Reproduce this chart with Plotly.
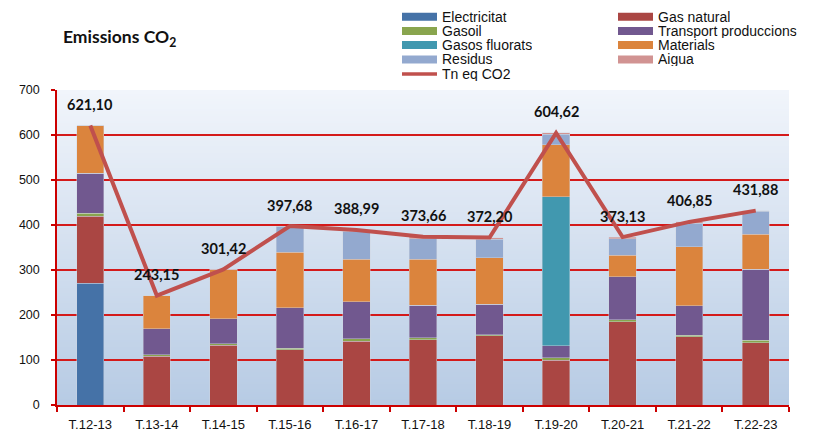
import base64
import struct
import zlib

import plotly.graph_objects as go

categories = ["T.12-13", "T.13-14", "T.14-15", "T.15-16", "T.16-17", "T.17-18",
              "T.18-19", "T.19-20", "T.20-21", "T.21-22", "T.22-23"]

electricitat = [271, 0, 0, 0, 0, 0, 0, 0, 0, 0, 0]
gas_natural = [148, 108, 133, 123, 142, 145, 154, 99, 185, 152, 138]
gasoil = [7, 4, 3, 3, 5, 5, 2, 6, 4, 3.5, 5.5]
transport = [89, 57, 56, 90, 83, 72, 68, 27, 96, 65, 158]
gasos_fluorats = [0, 0, 0, 0, 0, 0, 0, 331, 0, 0, 0]
materials = [106, 74, 109, 123, 94, 102, 103, 115, 48, 131, 77.5]
residus = [0, 0, 0, 58, 62, 46, 41, 24, 37, 52, 51.5]
aigua = [0.1, 0.15, 0.42, 0.68, 3.0, 3.66, 4.2, 2.62, 3.13, 3.35, 1.38]

totals = [621.10, 243.15, 301.42, 397.68, 388.99, 373.66, 372.20, 604.62, 373.13, 406.85, 431.88]
total_labels = ["621,10", "243,15", "301,42", "397,68", "388,99", "373,66",
                "372,20", "604,62", "373,13", "406,85", "431,88"]

series = [
    ("Electricitat", electricitat, "#4572A7"),
    ("Gas natural", gas_natural, "#AA4643"),
    ("Gasoil", gasoil, "#89A54E"),
    ("Transport produccions", transport, "#71588F"),
    ("Gasos fluorats", gasos_fluorats, "#4198AF"),
    ("Materials", materials, "#DB843D"),
    ("Residus", residus, "#93A9CF"),
    ("Aigua", aigua, "#D19392"),
]
line_name = "Tn eq CO2"
line_color = "#C0504D"

W, H = 818, 433
ML, MR, MT, MB = 57, 29, 90, 28
PW, PH = W - ML - MR, H - MT - MB


def px2paper(px, py):
    return (px - ML) / PW, (H - MB - py) / PH


def gradient_png(top, bot, n=128):
    rows = []
    for i in range(n):
        f = i / (n - 1)
        c = bytes(int(round(top[k] + (bot[k] - top[k]) * f)) for k in range(3))
        rows.append(b"\x00" + c + c)
    raw = b"".join(rows)

    def chunk(t, d):
        return struct.pack(">I", len(d)) + t + d + struct.pack(">I", zlib.crc32(t + d) & 0xffffffff)

    ihdr = struct.pack(">IIBBBBB", 2, n, 8, 2, 0, 0, 0)
    data = b"\x89PNG\r\n\x1a\n" + chunk(b"IHDR", ihdr) + chunk(b"IDAT", zlib.compress(raw)) + chunk(b"IEND", b"")
    return "data:image/png;base64," + base64.b64encode(data).decode()


fig = go.Figure()
for name, vals, col in series:
    fig.add_trace(go.Bar(x=categories, y=vals, name=name, marker_color=col,
                         marker_line=dict(color="rgba(210,215,225,0.7)", width=0.6),
                         showlegend=False))

fig.add_trace(go.Scatter(x=categories, y=totals, mode="lines", name=line_name,
                         line=dict(color=line_color, width=4), showlegend=False))

annotations = []
for c, t, lab in zip(categories, totals, total_labels):
    annotations.append(dict(x=c, y=t, text="<b>" + lab + "</b>", showarrow=False,
                            yshift=21, font=dict(family="Lato", size=14.5, color="#111111")))

tx, ty = px2paper(61, 38)
annotations.append(dict(xref="paper", yref="paper", x=tx, y=ty,
                        xanchor="left", yanchor="middle", showarrow=False,
                        text="<b>Emissions CO<sub>2</sub></b>",
                        font=dict(family="Lato", size=17.5, color="#111111")))

shapes = []
leg_rows = [16.7, 31, 45, 59.5, 74]
col_x = [402, 618]
legend_items = [(0, 0, series[0]), (1, 0, series[1]), (0, 1, series[2]), (1, 1, series[3]),
                (0, 2, series[4]), (1, 2, series[5]), (0, 3, series[6]), (1, 3, series[7])]
leg_font = dict(family="Liberation Sans", size=14, color="#111111")
for ci, ri, (name, _, col) in legend_items:
    x0, y0 = px2paper(col_x[ci], leg_rows[ri] - 4)
    x1, y1 = px2paper(col_x[ci] + 35, leg_rows[ri] + 4)
    shapes.append(dict(type="rect", xref="paper", yref="paper", x0=x0, x1=x1, y0=y1, y1=y0,
                       line=dict(width=0), fillcolor=col))
    tx, ty = px2paper(col_x[ci] + 39, leg_rows[ri])
    annotations.append(dict(xref="paper", yref="paper", x=tx, y=ty, xanchor="left",
                            yanchor="middle", showarrow=False, text=name, borderpad=0,
                            height=14, font=leg_font))
lx0, ly = px2paper(col_x[0], leg_rows[4])
lx1, _ = px2paper(col_x[0] + 35, leg_rows[4])
shapes.append(dict(type="line", xref="paper", yref="paper", x0=lx0, x1=lx1, y0=ly, y1=ly,
                   line=dict(color=line_color, width=3.5)))
tx, ty = px2paper(col_x[0] + 39, leg_rows[4])
annotations.append(dict(xref="paper", yref="paper", x=tx, y=ty, xanchor="left",
                        yanchor="middle", showarrow=False, text=line_name, borderpad=0,
                        height=14, font=leg_font))

fig.update_layout(
    width=W, height=H,
    margin=dict(l=ML, r=MR, t=MT, b=MB, pad=0),
    barmode="stack", bargap=0.59,
    paper_bgcolor="white", plot_bgcolor="rgba(0,0,0,0)",
    showlegend=False,
    annotations=annotations, shapes=shapes,
    images=[dict(source=gradient_png((241, 245, 251), (183, 203, 228)),
                 xref="paper", yref="paper", x=0, y=1, sizex=1, sizey=1,
                 xanchor="left", yanchor="top", sizing="stretch", layer="below")],
    xaxis=dict(type="category", showline=True, linecolor="#CC0000", linewidth=1.5,
               ticks="outside", tickson="boundaries", ticklen=5, tickcolor="#CC0000",
               tickwidth=1.5, showgrid=False, automargin=False, ticklabelstandoff=7,
               tickfont=dict(family="Liberation Sans", size=13, color="#111111")),
    yaxis=dict(range=[0, 700], dtick=100, showline=True, linecolor="#CC0000", linewidth=1.5,
               ticks="outside", ticklen=4, tickcolor="#CC0000", tickwidth=1.5,
               gridcolor="#D41A1A", gridwidth=1.6, zeroline=False,
               ticklabelstandoff=9, automargin=False,
               tickfont=dict(family="Liberation Sans", size=12.5, color="#111111")),
)

fig.write_html("out.html", config={"displayModeBar": False},
               post_script="document.body.style.margin='0px';document.body.style.overflow='hidden';")
